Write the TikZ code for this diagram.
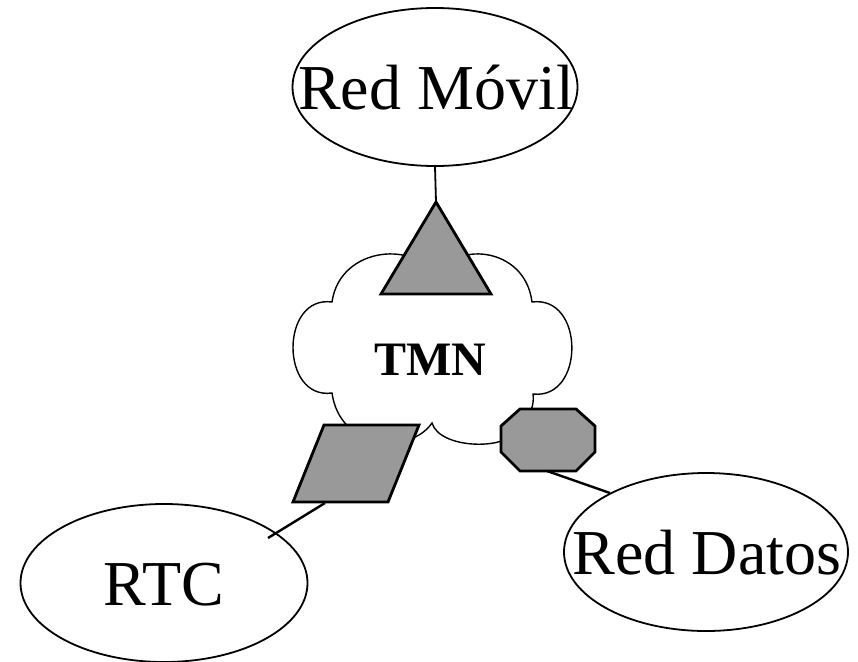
\documentclass[tikz,border=0pt]{standalone}
\usepackage{fontspec}
\setmainfont{Liberation Serif}
\usetikzlibrary{shapes.geometric}
\definecolor{shapegray}{RGB}{153,153,153}
\tikzset{
  x=1pt, y=1pt,
  net/.style={draw=black, line width=1.8pt, ellipse, inner sep=0pt, fill=white},
  nettext/.style={inner sep=0pt, font=\fontsize{64}{70}\selectfont},
  cloudline/.style={draw=black, line width=1.4pt, fill=white},
  part/.style={draw=black, line width=2.8pt, fill=shapegray, line join=miter},
  link/.style={draw=black, line width=2.4pt},
}
\begin{document}
\begin{tikzpicture}
\useasboundingbox (0,0) rectangle (858,-661);
% cloud
\path[cloudline] (332,-393)
  .. controls (280,-400) and (280,-295) .. (332,-302)
  .. controls (340,-245) and (420,-240) .. (436,-280)
  .. controls (450,-240) and (525,-245) .. (532,-302)
  .. controls (585,-295) and (585,-400) .. (533,-394)
  .. controls (535,-410) and (525,-425) .. (515,-430)
  .. controls (510,-450) and (440,-450) .. (432,-423)
  .. controls (410,-455) and (340,-450) .. (332,-393) -- cycle;
\node (tmn) at (430.5,-359.5) {\fontsize{48}{52}\selectfont\bfseries TMN};
% network ellipses
\node[net, minimum width=285pt, minimum height=158pt] (movil) at (435,-87) {};
\node[nettext] (movilt) at (436,-88) {Red Móvil};
\node[net, minimum width=287pt, minimum height=158pt] (rtc) at (164,-583) {};
\node[nettext] (rtct) at (164,-585) {RTC};
\node[net, minimum width=284pt, minimum height=158pt] (datos) at (706,-552) {};
\node[nettext] (datost) at (707,-553) {Red Datos};
% triangle
\coordinate (triapex) at (436,-202);
\path[part] (triapex) -- (491,-294) -- (381,-294) -- cycle;
% parallelogram
\coordinate (parabot) at (325,-503);
\path[part] (324,-425) -- (419,-425) -- (388,-502) -- (293,-502) -- cycle;
% octagon
\coordinate (octbot) at (547,-471);
\path[part] (520,-409) -- (576,-409) -- (595,-426) -- (595,-452) -- (576,-471)
  -- (520,-471) -- (501,-452) -- (501,-426) -- cycle;
% connectors
\coordinate (rtcend) at (268,-538);
\coordinate (datosend) at (610,-493);
\draw[link, line width=1.8pt] (movil.south) -- (triapex);
\draw[link] (parabot) -- (rtcend);
\draw[link] (octbot) -- (datosend);
\end{tikzpicture}
\end{document}
